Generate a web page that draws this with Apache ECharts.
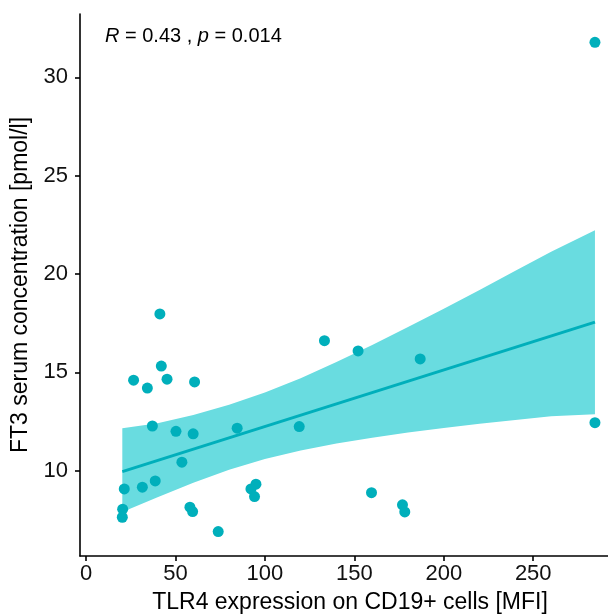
<!DOCTYPE html>
<html><head><meta charset="utf-8">
<script src="https://cdn.jsdelivr.net/npm/echarts@6/dist/echarts.min.js"></script>
<style>html,body{margin:0;padding:0;background:#fff}#c{width:608px;height:614px}</style>
</head><body><div id="c"></div>
<script>
// TLR4 expression on CD19+ cells [MFI]
const tlr4 = [41.3, 42.1, 26.6, 34.3, 45.3, 60.7, 37.1, 50.3, 59.9, 53.6, 21.4, 31.5, 38.7, 20.5, 20.3, 58.1, 59.6, 73.9, 84.5, 119.2, 133.3, 95.0, 92.2, 94.2, 152.1, 186.8, 159.6, 176.9, 178.2, 284.5, 284.5];
// FT3 serum concentration [pmol/l]
const ft3 = [17.97, 15.32, 14.60, 14.20, 14.65, 14.51, 12.27, 12.00, 11.87, 10.43, 9.07, 9.16, 9.48, 8.04, 7.63, 8.14, 7.92, 6.90, 12.16, 12.24, 16.61, 9.31, 9.07, 8.68, 16.09, 15.68, 8.88, 8.26, 7.90, 12.44, 31.78];
// regression line and confidence band
const fitX = [20.3, 284.5];
const fitY = [9.95, 17.55];
const bandX = [20.3, 40, 60, 80, 100, 120, 140, 160, 180, 200, 220, 240, 260, 284.5];
const bandLow = [7.90, 8.65, 9.39, 10.05, 10.59, 11.02, 11.38, 11.67, 11.94, 12.17, 12.38, 12.58, 12.77, 12.87];
const bandHigh = [12.15, 12.41, 12.83, 13.35, 13.97, 14.70, 15.52, 16.39, 17.30, 18.23, 19.18, 20.16, 21.13, 22.22];
const xTicks = [0, 50, 100, 150, 200, 250];
const yTicks = [10, 15, 20, 25, 30];
const statText = ['R', ' = 0.43 , ', 'p', ' = 0.014'];

const FONT = '"Liberation Sans", Arial, Helvetica, sans-serif';
const chart = echarts.init(document.getElementById('c'), null, {renderer: 'canvas'});

const bandData = bandX.map((x, i) => [x, bandLow[i], bandHigh[i]]);

const axisCommon = {
  axisLine: {show: true, onZero: false, lineStyle: {color: '#000', width: 1.6}},
  axisTick: {show: true, length: 5, lineStyle: {color: '#000', width: 1.6}},
  splitLine: {show: false},
  nameTextStyle: {color: '#000', fontSize: 23, fontFamily: FONT},
};

chart.setOption({
  animation: false,
  backgroundColor: '#fff',
  grid: {left: 80, top: 14, width: 540, height: 542, containLabel: false, outerBoundsMode: 'none'},
  xAxis: Object.assign({}, axisCommon, {
    type: 'value', min: -3.35, max: 298.5,
    name: 'TLR4 expression on CD19+ cells [MFI]', nameLocation: 'middle', nameGap: 35,
    axisTick: Object.assign({}, axisCommon.axisTick, {customValues: xTicks}),
    axisLabel: {customValues: xTicks, color: '#111', fontSize: 22, fontFamily: FONT, margin: 7},
  }),
  yAxis: Object.assign({}, axisCommon, {
    type: 'value', min: 5.66, max: 33.22,
    name: 'FT3 serum concentration [pmol/l]', nameLocation: 'middle', nameGap: 41, nameRotate: 90,
    axisTick: Object.assign({}, axisCommon.axisTick, {customValues: yTicks}),
    axisLabel: {customValues: yTicks, color: '#111', fontSize: 22, fontFamily: FONT, margin: 12},
  }),
  graphic: [{
    type: 'text', left: 105, top: 26, z: 100,
    style: {
      text: '{i|' + statText[0] + '}' + statText[1] + '{i|' + statText[2] + '}' + statText[3],
      font: '20px ' + FONT, fill: '#000',
      rich: {i: {fontStyle: 'italic', fontSize: 20, fontFamily: FONT, fill: '#000'}}
    }
  }],
  series: [
    {
      type: 'custom', z: 1, silent: true,
      data: bandData,
      encode: {x: 0, y: [1, 2]},
      renderItem: function (params, api) {
        if (params.dataIndex !== 0) return null;
        const pts = [];
        for (let i = 0; i < bandX.length; i++) pts.push(api.coord([bandX[i], bandHigh[i]]));
        for (let i = bandX.length - 1; i >= 0; i--) pts.push(api.coord([bandX[i], bandLow[i]]));
        return {type: 'polygon', shape: {points: pts}, style: {fill: '#69DCE0'}};
      }
    },
    {
      type: 'line', z: 2, silent: true, symbol: 'none',
      data: fitX.map((x, i) => [x, fitY[i]]),
      lineStyle: {color: '#00AFBB', width: 3}
    },
    {
      type: 'scatter', z: 3, silent: true,
      symbolSize: 11,
      itemStyle: {color: '#00AFBB', opacity: 1},
      data: tlr4.map((x, i) => [x, ft3[i]])
    }
  ]
});
</script>
</body></html>
